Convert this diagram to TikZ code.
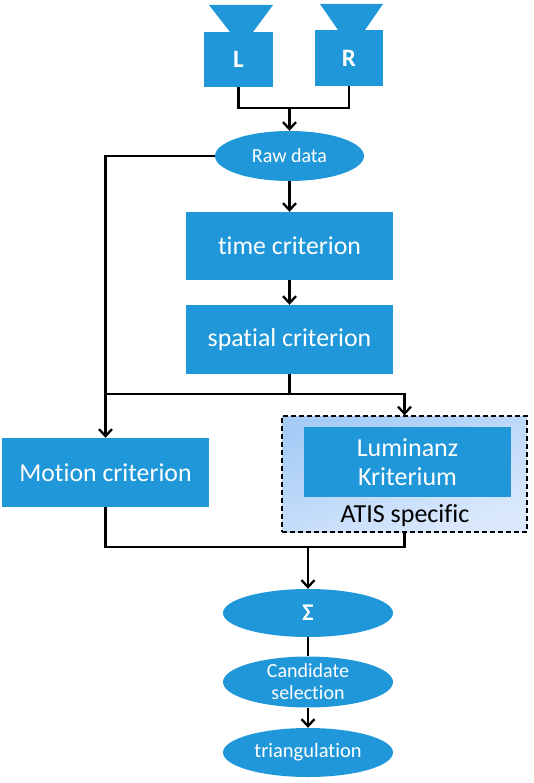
\documentclass[tikz,border=0pt]{standalone}
\usepackage{fontspec}
\setmainfont{Carlito}[RawFeature={-liga;-clig}]
\usetikzlibrary{shapes.geometric,arrows.meta,calc}
\definecolor{bx}{HTML}{1F97D9}
\definecolor{gra}{HTML}{A6CCF6}
\definecolor{grb}{HTML}{DCE9FC}
\tikzset{x=1pt,y=-1pt,
 rbox/.style={fill=bx,draw=none,inner sep=0pt,align=center,text=white},
 oval/.style={ellipse,fill=bx,draw=none,inner sep=0pt,align=center,text=white},
 wire/.style={draw=black,line width=2.3pt},
 arr/.style={wire,-{Straight Barb[length=7pt,width=13pt,line width=2.3pt]}}
}
\begin{document}
\begin{tikzpicture}
\useasboundingbox (0,0) rectangle (533,783);
% cameras
\fill[bx] (209,5) -- (273,5) -- (253,32) -- (230,32) -- cycle;
\fill[bx] (320,4) -- (383,4) -- (365,30) -- (338,30) -- cycle;
\node[rbox,minimum width=69pt,minimum height=55pt,font=\fontsize{25}{27}\selectfont\bfseries] (L) at (238.5,59.5) {L};
\node[rbox,minimum width=68pt,minimum height=56pt,font=\fontsize{25}{27}\selectfont\bfseries] (R) at (349,58) {R};
\node[oval,minimum width=149pt,minimum height=50pt,font=\fontsize{20}{22}\selectfont] (raw) at (289.5,156) {Raw data};
\node[rbox,minimum width=207pt,minimum height=68pt,font=\fontsize{25.8}{28}\selectfont] (time) at (289.5,246) {time criterion};
\node[rbox,minimum width=207pt,minimum height=69pt,font=\fontsize{25.8}{28}\selectfont] (spatial) at (289.5,339.5) {spatial criterion};
\node[rbox,minimum width=207pt,minimum height=69pt,font=\fontsize{25.8}{28}\selectfont] (motion) at (105.5,472.5) {Motion criterion};
\node[draw=black,dash pattern=on 5pt off 3pt,line width=1.3pt,left color=gra,right color=grb,shading angle=20,
  minimum width=245pt,minimum height=116pt,inner sep=0pt] (atis) at (404.5,474) {};
\node[rbox,minimum width=207pt,minimum height=70pt,font=\fontsize{26}{29}\selectfont] (lum) at (407.5,462) {Luminanz\\Kriterium};
\node[inner sep=0pt,font=\fontsize{26}{28}\selectfont,text=black] (atl) at (405,516) {ATIS specific};
\node[oval,minimum width=170pt,minimum height=48pt,font=\fontsize{24}{26}\selectfont\bfseries] (sum) at (308,613) {Σ};
\node[oval,minimum width=170pt,minimum height=49pt,font=\fontsize{20}{22}\selectfont] (cand) at (308,682) {Candidate\\selection};
\node[oval,minimum width=170pt,minimum height=49pt,font=\fontsize{20.5}{22}\selectfont] (tri) at (308,752.5) {triangulation};
% junctions
\coordinate (j1) at (raw.north |- 0,108);
\coordinate (j2) at (spatial.south |- 0,394);
\coordinate (j3) at (sum.north |- 0,547);
% connectors
\draw[wire] (L.south) |- (j1);
\draw[wire] (R.south) |- (j1);
\draw[arr] (j1) -- (raw.north);
\draw[arr] (raw.south) -- (time.north);
\draw[arr] (time.south) -- (spatial.north);
\draw[arr] (raw.west) -| (motion.north);
\draw[wire] (spatial.south) -- (j2);
\draw[arr] (j2) -| (atis.north);
\draw[wire] (j2) -- (motion.north |- j2);
\draw[wire] (motion.south) |- (j3);
\draw[wire] (atis.south) |- (j3);
\draw[arr] (j3) -- (sum.north);
\draw[wire] (sum.south) -- (cand.north);
\draw[arr] (cand.south) -- (tri.north);
\end{tikzpicture}
\end{document}
